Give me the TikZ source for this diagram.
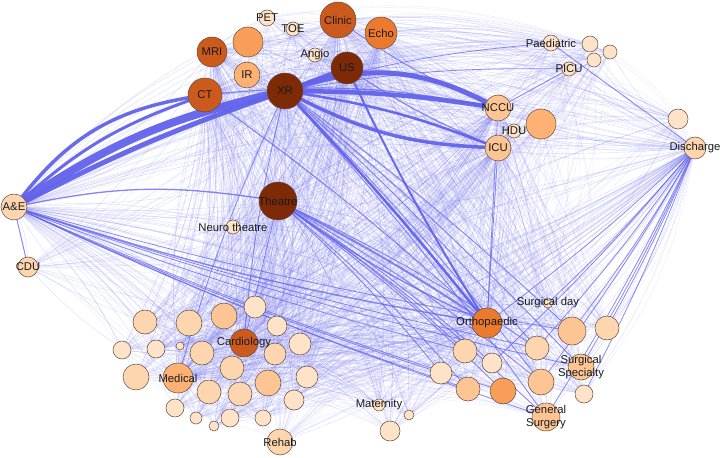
\documentclass[tikz,border=0pt]{standalone}
\usepackage{fontspec}
\setmainfont{Liberation Sans}
\pgfdeclarelayer{edges}
\pgfsetlayers{edges,main}
\definecolor{edge}{RGB}{98,98,235}
\definecolor{Lone}{HTML}{FEE3C8}
\definecolor{Ltwo}{HTML}{FDD5AF}
\definecolor{Lthree}{HTML}{FDC593}
\definecolor{Mone}{HTML}{FDB274}
\definecolor{Mtwo}{HTML}{F89E58}
\definecolor{Oone}{HTML}{EC7A2E}
\definecolor{Otwo}{HTML}{CC5A1C}
\definecolor{Dk}{HTML}{7E2A07}
\definecolor{rim}{HTML}{5E4A3C}
\definecolor{ink}{HTML}{1A1A1A}
\tikzset{
  vtx/.style={circle, draw=rim, line width=0.5bp, inner sep=0pt, outer sep=0pt},
  lbl/.style={inner sep=0pt, align=center, text=ink, font=\fontsize{11.3bp}{12.6bp}\selectfont},
  haze/.style={draw=edge, line width=0.3bp, opacity=0.15},
  hubedge/.style={draw=edge, line width=0.4bp, opacity=0.22},
  midedge/.style={draw=edge, line width=#1, opacity=0.75},
  bandedge/.style={draw=edge, line width=#1, opacity=0.95},
}
\newcommand\V[5]{\node[vtx, fill=#5, minimum size=2*#4bp] (#1) at (#2,-#3) {};}
\newcommand\Lb[2]{\node[lbl] (#1-t) at (#1) {#2};}
\def\allv{pet,toe,clinic,uA,mri,angio,us,ir,ct,xr,echo,theatre,ae,neuro,cdu,paed,pA,pB,pC,picu,nccu,hdu,uB,icu,uC,discharge,a1,a2,a3,a4,a5,a6,a7,a8,a9,cardio,a10,a11,a12,medical,a13,a14,a15,a16,a17,a18,a19,a20,a21,a22,a23,rehab,maternity,mA,mB,ortho,sday,b1,b2,b3,b4,b5,surgspec,b6,b7,b8,b9,b10,gensurg}
\begin{document}
\begin{tikzpicture}[x=1bp,y=1bp]
\useasboundingbox (0,0) rectangle (723,-458);
% ---- nodes: top cluster
\V{pet}{267}{18}{8}{Lone}
\V{toe}{293}{29}{7}{Lone}
\V{clinic}{338}{20}{18}{Otwo}
\V{uA}{248}{42}{15}{Mtwo}
\V{mri}{212}{52}{15}{Otwo}
\V{angio}{315}{55}{7}{Lone}
\V{us}{347}{68}{16}{Dk}
\V{ir}{247}{75}{13}{Mone}
\V{ct}{205}{95}{17}{Otwo}
\V{xr}{285}{91}{18}{Dk}
\V{echo}{381}{33}{16}{Oone}
\V{theatre}{278}{201}{19}{Dk}
\V{ae}{14}{207}{13}{Ltwo}
\V{neuro}{233}{227}{7}{Lone}
\V{cdu}{28}{267}{10}{Ltwo}
% ---- top right
\V{paed}{551}{43}{8}{Lone}
\V{pA}{590}{44}{8}{Lone}
\V{pB}{610}{52}{7}{Lone}
\V{pC}{594}{60}{7}{Lone}
\V{picu}{569}{69}{7}{Lone}
\V{nccu}{498}{108}{13}{Lthree}
\V{hdu}{514}{131}{7}{Lone}
\V{uB}{541}{124}{15}{Mone}
\V{icu}{498}{148}{13}{Lthree}
\V{uC}{678}{119}{10}{Lone}
\V{discharge}{695}{148}{11}{Ltwo}
% ---- lower left cluster
\V{a1}{145}{322}{12}{Ltwo}
\V{a2}{189}{323}{13}{Ltwo}
\V{a3}{224}{316}{13}{Lthree}
\V{a4}{255}{307}{11}{Lone}
\V{a5}{277}{326}{10}{Lone}
\V{a6}{122}{350}{9}{Lone}
\V{a7}{156}{349}{9}{Lone}
\V{a8}{180}{346}{4}{Lone}
\V{a9}{202}{353}{12}{Ltwo}
\V{cardio}{244}{343}{14}{Otwo}
\V{a10}{275}{354}{11}{Ltwo}
\V{a11}{300}{344}{11}{Lone}
\V{a12}{136}{377}{13}{Ltwo}
\V{medical}{178}{378}{15}{Mone}
\V{a13}{232}{368}{12}{Ltwo}
\V{a14}{268}{383}{13}{Lthree}
\V{a15}{307}{377}{11}{Lone}
\V{a16}{209}{392}{12}{Ltwo}
\V{a17}{240}{394}{12}{Ltwo}
\V{a18}{294}{400}{10}{Lone}
\V{a19}{175}{408}{9}{Lone}
\V{a20}{196}{418}{6}{Lone}
\V{a21}{214}{426}{5}{Lone}
\V{a22}{230}{418}{9}{Lone}
\V{a23}{263}{418}{8}{Lone}
\V{rehab}{280}{442}{13}{Ltwo}
% ---- bottom middle
\V{maternity}{379}{405}{6}{Lone}
\V{mA}{409}{415}{5}{Lone}
\V{mB}{390}{431}{10}{Lone}
% ---- right cluster
\V{ortho}{487}{323}{15}{Oone}
\V{sday}{548}{303}{5}{Lone}
\V{b1}{572}{331}{14}{Lthree}
\V{b2}{607}{328}{12}{Ltwo}
\V{b3}{465}{351}{12}{Ltwo}
\V{b4}{537}{348}{12}{Ltwo}
\V{b5}{492}{363}{10}{Lone}
\V{surgspec}{581}{367}{13}{Lthree}
\V{b6}{441}{373}{11}{Lone}
\V{b7}{468}{389}{12}{Lthree}
\V{b8}{503}{391}{13}{Mtwo}
\V{b9}{541}{382}{13}{Lthree}
\V{b10}{584}{394}{9}{Lone}
\V{gensurg}{546}{417}{14}{Lthree}
% ---- labels
\Lb{pet}{PET}
\Lb{toe}{TOE}
\Lb{clinic}{Clinic}
\Lb{mri}{MRI}
\Lb{angio}{Angio}
\Lb{us}{US}
\Lb{ir}{IR}
\Lb{ct}{CT}
\Lb{xr}{XR}
\Lb{echo}{Echo}
\Lb{theatre}{Theatre}
\Lb{ae}{A\&E}
\Lb{neuro}{Neuro theatre}
\Lb{cdu}{CDU}
\Lb{paed}{Paediatric}
\Lb{picu}{PICU}
\Lb{nccu}{NCCU}
\Lb{hdu}{HDU}
\Lb{icu}{ICU}
\Lb{discharge}{Discharge}
\Lb{cardio}{Cardiology}
\Lb{medical}{Medical}
\Lb{rehab}{Rehab}
\Lb{maternity}{Maternity}
\Lb{ortho}{Orthopaedic}
\Lb{sday}{Surgical day}
\Lb{surgspec}{Surgical\\Specialty}
\Lb{gensurg}{General\\Surgery}
% ---- edges
\begin{pgfonlayer}{edges}
\pgfmathsetseed{7}
\foreach \p [count=\i] in \allv {
  \foreach \q [count=\j] in \allv {
    \ifnum\j>\i\relax
      \pgfmathsetmacro\rr{rnd}
      \ifdim\rr pt<0.3pt
        \draw[haze] (\p) to[bend left=14] (\q);
      \fi
    \fi
  }
}
\foreach \h in {xr,theatre,ct,us,clinic,mri,echo,ae,ortho,cardio,medical,discharge,nccu,icu} {
  \foreach \q in \allv {
    \edef\ta{\h}\edef\tb{\q}
    \ifx\ta\tb\else
      \draw[hubedge] (\h) to[bend left=10] (\q);
    \fi
  }
}
% medium edges
\draw[midedge=2bp] (theatre) to[bend left=3] (ortho);
\draw[midedge=1.4bp] (theatre) to[bend right=5] (ortho);
\foreach \q in {b3,b5,b7,b8,b9,gensurg,b4,b6} {\draw[midedge=0.9bp] (theatre) to[bend left=4] (\q);}
\draw[midedge=1.3bp] (ae) to[bend left=10] (theatre);
\draw[midedge=1bp] (ae) to (cdu);
\draw[midedge=1.4bp] (ae) to[bend right=4] (ortho);
\foreach \q in {b3,b6,b7,b8,gensurg,surgspec,b4,b1} {\draw[midedge=0.8bp] (ae) to[bend right=3] (\q);}
\foreach \q in {ortho,b1,b2,b4,b9,surgspec,gensurg,sday,b10,b5} {\draw[midedge=0.8bp] (discharge) to[bend left=3] (\q);}
\draw[midedge=0.9bp] (paed) to (discharge);
\foreach \q in {paed,picu} {\draw[midedge=0.8bp] (xr) to[bend left=5] (\q);}
\draw[midedge=0.8bp] (picu) to (nccu);
\foreach \q in {b4,b9,gensurg,surgspec,b1} {\draw[midedge=0.9bp] (xr) to[bend left=3] (\q);}
\draw[midedge=1bp] (ct) to[bend left=3] (ortho);
\draw[midedge=1.2bp] (us) to[bend right=5] (icu);
\draw[midedge=1.2bp] (ct) to[bend left=8] (nccu);
\draw[midedge=1bp] (clinic) to[bend right=6] (nccu);
\foreach \q in {cardio,medical} {\draw[midedge=0.8bp] (xr) to[bend right=4] (\q);}
\draw[midedge=0.8bp] (theatre) to (cardio);
\draw[midedge=0.8bp] (nccu) to (ortho);
\draw[midedge=0.8bp] (icu) to (ortho);
% thick bands
\draw[bandedge=3.5bp] (ae) to[bend left=21] (ct);
\draw[bandedge=3bp] (ae) to[bend left=11] (ct);
\draw[bandedge=8bp] (ae) to[bend left=10] (xr);
\draw[bandedge=5bp] (ae) to[bend left=4] (xr);
\draw[bandedge=4bp] (xr) to (us);
\draw[bandedge=5bp] (xr) to[bend left=22] (nccu);
\draw[bandedge=4.5bp] (xr) to[bend left=4] (nccu);
\draw[bandedge=3.5bp] (xr) to[bend right=12] (icu);
\draw[bandedge=2.5bp] (xr) to[bend left=6] (icu);
\draw[bandedge=2.5bp] (xr) to[bend left=2] (ortho);
\draw[bandedge=2bp] (us) to[bend right=3] (ortho);
\end{pgfonlayer}
\end{tikzpicture}
\end{document}
